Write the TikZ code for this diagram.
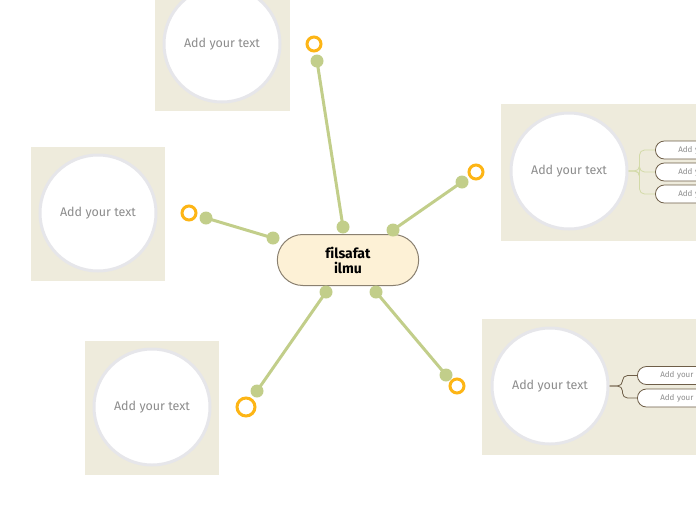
\documentclass[tikz,border=0pt]{standalone}
\usepackage{fontspec}
\setmainfont{Fira Sans}[Ligatures=NoCommon]
\usepackage{xcolor}
\usepackage{tikz}
\usetikzlibrary{positioning, shapes, calc}

\definecolor{panelbg}{HTML}{EEEBDC}
\definecolor{stalkc}{HTML}{C2CE8A}
\definecolor{ringc}{HTML}{FDB515}
\definecolor{topicbg}{HTML}{FDF1D6}
\definecolor{topicline}{HTML}{8A8070}
\definecolor{bubbleline}{HTML}{E6E6EA}
\definecolor{greytext}{HTML}{8C8C8C}
\definecolor{subgreen}{HTML}{D3DAA8}
\definecolor{subbrown}{HTML}{6E5E48}

\tikzset{
  topic/.style={rounded rectangle, draw=topicline, fill=topicbg, line width=1pt,
    minimum width=148pt, minimum height=51pt, align=center,
    font=\fontsize{14}{15}\selectfont\bfseries, text=black},
  bubble/.style={circle, draw=bubbleline, fill=white, line width=3pt,
    minimum size=116pt, inner sep=0pt, text=greytext,
    font=\fontsize{12.5}{13}\selectfont\mdseries},
  subitem/.style={rounded rectangle, rounded rectangle right arc=none, draw=subbrown, fill=white,
    line width=0.8pt, minimum height=18pt, inner xsep=22pt, inner ysep=0pt,
    anchor=west, text=greytext, font=\fontsize{8}{9}\selectfont, text width=70pt},
  stalk/.style={stalkc, line width=3pt},
  knob/.style={fill=stalkc},
  ring/.style={draw=ringc, fill=white, line width=3pt}
}

\begin{document}
\begin{tikzpicture}[x=1pt, y=-1pt]
  \useasboundingbox (0,0) rectangle (696,520);
  \clip (0,0) rectangle (696,520);

  % Panels behind the bubbles
  \fill[panelbg] (155,-5) rectangle (290,111);
  \fill[panelbg] (31,147) rectangle (165,281);
  \fill[panelbg] (85,341) rectangle (219,475);
  \fill[panelbg] (501,104) rectangle (700,241);
  \fill[panelbg] (482,319) rectangle (700,455);

  % Bubbles
  \node[bubble] (top)   at (222,44)  {Add your text};
  \node[bubble] (left)  at (98,213)  {Add your text};
  \node[bubble] (low)   at (152,407) {Add your text};
  \node[bubble] (right) at (569,171) {Add your text};
  \node[bubble] (lowr)  at (550,386) {Add your text};

  % Central topic
  \node[topic] (root) at (348,260) {filsafat\\ilmu};

  % Sub items
  \node[subitem] (r1) at (655,150) {Add your text};
  \node[subitem] (r2) at (655,172) {Add your text};
  \node[subitem] (r3) at (655,194) {Add your text};
  \node[subitem] (q1) at (637,375.5) {Add your text};
  \node[subitem] (q2) at (637,398) {Add your text};

  \foreach \s in {r1, r2, r3}
    \draw[subgreen, line width=0.8pt, rounded corners=5pt] (right.east) -- ++(11,0) |- (\s.west);
  \foreach \s in {q1, q2}
    \draw[subbrown, line width=0.8pt, rounded corners=5pt] (lowr.east) -- ++(13,0) |- (\s.west);

  % Stalks
  \coordinate (a1) at (343,227); \coordinate (b1) at (317,61);  \coordinate (c1) at (314,44);
  \coordinate (a2) at (393,230); \coordinate (b2) at (462,182); \coordinate (c2) at (476,172);
  \coordinate (a3) at (273,238); \coordinate (b3) at (206,218); \coordinate (c3) at (189,213);
  \coordinate (a4) at (326,292); \coordinate (b4) at (257,391); \coordinate (c4) at (246,407);
  \coordinate (a5) at (376,292); \coordinate (b5) at (446,375); \coordinate (c5) at (457,386);

  \foreach \i/\rr in {1/7, 2/7, 3/7, 4/9, 5/7} {
    \draw[stalk] (a\i) -- (b\i);
    \fill[knob] (a\i) circle (6.5);
    \fill[knob] (b\i) circle (6.5);
    \draw[ring] (c\i) circle (\rr);
  }
\end{tikzpicture}
\end{document}
